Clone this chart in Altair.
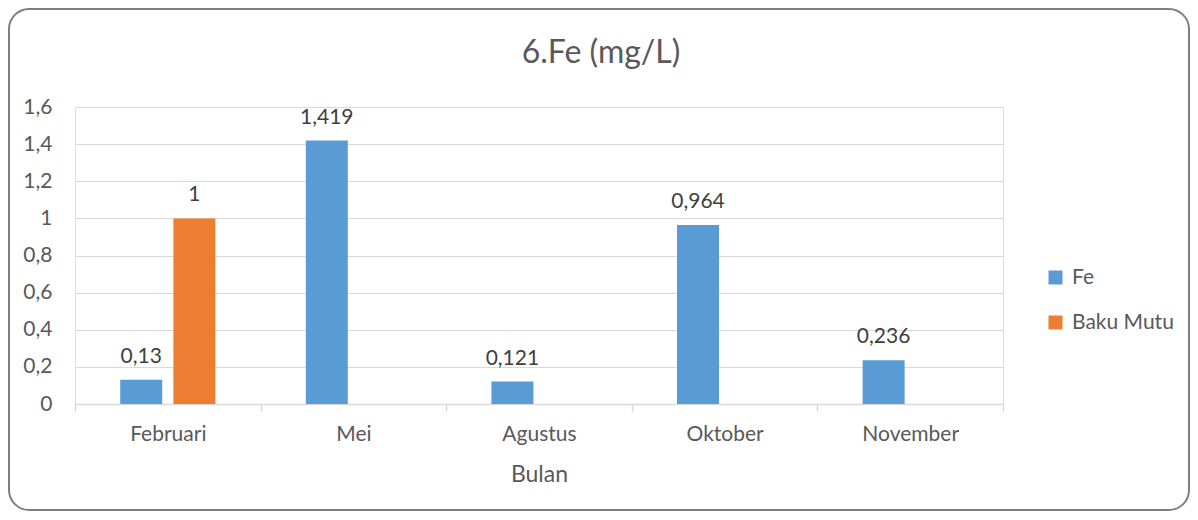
import altair as alt
import pandas as pd

months = ["Februari", "Mei", "Agustus", "Oktober", "November"]
fe_values = [0.13, 1.419, 0.121, 0.964, 0.236]
baku_mutu = [1, None, None, None, None]
series = ["Fe", "Baku Mutu"]
colors = ["#5B9BD5", "#ED7D31"]
y_ticks = [0, 0.2, 0.4, 0.6, 0.8, 1.0, 1.2, 1.4, 1.6]
chart_title = "6.Fe (mg/L)"

rows = []
for m, f, b in zip(months, fe_values, baku_mutu):
    rows.append({"Bulan": m, "Seri": "Fe", "Nilai": f})
    if b is not None:
        rows.append({"Bulan": m, "Seri": "Baku Mutu", "Nilai": b})
df = pd.DataFrame(rows)

FONT = "Lato"
TXT = "#595959"
FS = 21

x_enc = alt.X("Bulan:N", sort=months, title="Bulan",
              scale=alt.Scale(paddingInner=0, paddingOuter=0),
              axis=alt.Axis(labelAngle=0, tickBand="extent", tickSize=7,
                            tickColor="#D9D9D9", domainColor="#D9D9D9",
                            domainWidth=1.5, tickWidth=1.5,
                            labelFontSize=FS, labelColor=TXT, labelFont=FONT,
                            labelPadding=12, titleFontSize=23, titleColor=TXT,
                            titleFont=FONT, titleFontWeight="normal",
                            titlePadding=19, grid=False))
xo_enc = alt.XOffset("Seri:N", sort=series,
                     scale=alt.Scale(domain=series, paddingInner=0.21, paddingOuter=0.85))
y_enc = alt.Y("Nilai:Q", title=None,
              scale=alt.Scale(domain=[0, 1.6], nice=False),
              axis=alt.Axis(values=y_ticks, domain=False, ticks=False,
                            labelOverlap=False, labelBound=False, labelFlush=False,
                            labelExpr="replace(format(datum.value, '~g'), '.', ',')",
                            labelFontSize=FS, labelColor=TXT, labelFont=FONT,
                            labelPadding=23, gridColor="#D9D9D9", gridWidth=1.2))

base = alt.Chart(df)

bars = base.mark_bar().encode(
    x=x_enc, xOffset=xo_enc, y=y_enc,
    color=alt.Color("Seri:N", sort=series,
                    scale=alt.Scale(domain=series, range=colors),
                    legend=alt.Legend(title=None, orient="none", legendX=970, legendY=160,
                                      symbolType="square", symbolSize=196,
                                      symbolStrokeWidth=0, labelFontSize=FS,
                                      labelColor=TXT, labelFont=FONT, rowPadding=23,
                                      labelOffset=6, padding=0)),
)

labels = base.transform_calculate(
    lbl="replace(toString(datum.Nilai), '.', ',')"
).mark_text(baseline="alphabetic", dy=-17, fontSize=FS, font=FONT, color="#404040").encode(
    x=x_enc, xOffset=xo_enc, y=y_enc, text="lbl:N",
)

title_mark = alt.Chart(pd.DataFrame({"t": [chart_title]})).mark_text(
    baseline="alphabetic", align="center", fontSize=32, font=FONT, color=TXT
).encode(x=alt.value(526), y=alt.value(-44), text="t:N")

border = alt.Chart(pd.DataFrame({"a": [0]})).mark_rect(
    fillOpacity=0, stroke="#7F7F7F", strokeWidth=2, cornerRadius=20
).encode(x=alt.value(-66), x2=alt.value(1114), y=alt.value(-98), y2=alt.value(403))

chart = alt.layer(bars, labels, title_mark, border).properties(
    width=928, height=297, autosize="none",
    padding={"left": 67, "top": 99, "right": 187, "bottom": 108},
).configure_view(stroke=None).configure(background="white")

chart.save("out.html", embed_options={"renderer": "svg", "actions": False})
